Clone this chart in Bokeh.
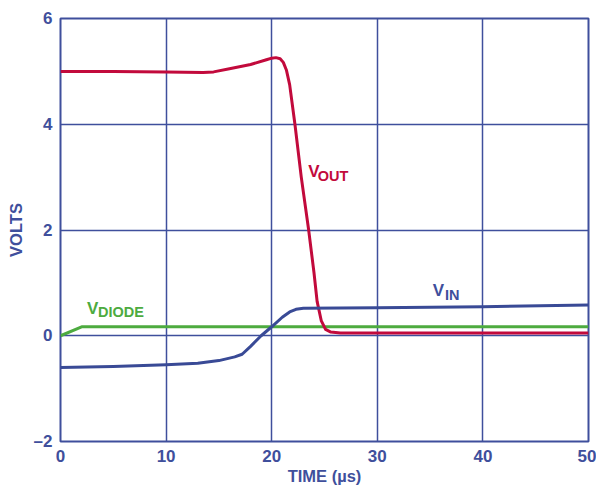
from bokeh.plotting import figure
from bokeh.models import Range1d, FixedTicker
from bokeh.core.properties import value
from bokeh.embed import file_html
from bokeh.resources import INLINE

# Data
t_out = [0, 5, 10, 13.5, 14.5, 16, 18, 19.5, 20.0, 20.4, 20.8, 21.1, 21.4, 21.7, 22.2, 22.8, 23.5, 24.0, 24.3, 24.7, 25.1, 25.6, 26.5, 30, 40, 50]
v_out = [5.00, 5.00, 4.99, 4.98, 4.99, 5.05, 5.13, 5.22, 5.25, 5.26, 5.24, 5.17, 5.02, 4.75, 4.0, 3.0, 2.0, 1.2, 0.65, 0.28, 0.12, 0.07, 0.05, 0.05, 0.05, 0.05]

t_in = [0, 5, 10, 13, 15, 16.5, 17.2, 18, 19, 20, 21, 21.7, 22.3, 23, 30, 40, 50]
v_in = [-0.60, -0.58, -0.55, -0.52, -0.47, -0.40, -0.35, -0.20, 0.0, 0.17, 0.35, 0.45, 0.50, 0.52, 0.53, 0.55, 0.58]

t_diode = [0, 2, 50]
v_diode = [0.0, 0.17, 0.17]

x_ticks = [0, 10, 20, 30, 40, 50]
y_ticks = [-2, 0, 2, 4, 6]
y_tick_labels = {-2: "\u20132", 0: "0", 2: "2", 4: "4", 6: "6"}

BLUE = "#3f4f9c"
RED = "#c20a3c"
GREEN = "#4dab3f"
LINEBLUE = "#394a96"
FONT = "Liberation Sans"

p = figure(width=596, height=487, output_backend="svg", toolbar_location=None,
           x_range=Range1d(0, 50), y_range=Range1d(-2, 6),
           min_border_left=60, min_border_right=8, min_border_top=18, min_border_bottom=45)

p.background_fill_color = "white"
p.border_fill_color = "white"
p.outline_line_color = BLUE
p.outline_line_width = 2
p.outline_line_alpha = 1

p.xaxis.ticker = FixedTicker(ticks=x_ticks)
p.yaxis.ticker = FixedTicker(ticks=y_ticks)
p.yaxis.major_label_overrides = y_tick_labels

for ax in (p.xaxis, p.yaxis):
    ax.axis_line_color = None
    ax.major_tick_line_color = None
    ax.minor_tick_line_color = None
    ax.major_tick_out = 0
    ax.major_tick_in = 0
    ax.major_label_text_font = FONT
    ax.major_label_text_font_style = "bold"
    ax.major_label_text_font_size = "17px"
    ax.major_label_text_color = BLUE
    ax.major_label_standoff = 8
    ax.axis_label_text_font = FONT
    ax.axis_label_text_font_style = "bold"
    ax.axis_label_text_font_size = "16.5px"
    ax.axis_label_text_color = BLUE

p.xaxis.axis_label = "TIME (\u00b5s)"
p.yaxis.axis_label = "VOLTS"
p.xaxis.axis_label_standoff = 2
p.yaxis.axis_label_standoff = 6

p.grid.grid_line_color = BLUE
p.grid.grid_line_width = 1.5
p.grid.grid_line_alpha = 1

p.line(t_diode, v_diode, line_color=GREEN, line_width=3)
p.line(t_out, v_out, line_color=RED, line_width=3, line_join="round")
p.line(t_in, v_in, line_color=LINEBLUE, line_width=3, line_join="round")

def sublabel(x, y, main, sub, color, xs, ys):
    p.text(x=[x], y=[y], text=[main], text_font=value(FONT), text_font_style="bold",
           text_font_size="17px", text_color=color, text_baseline="alphabetic", text_align="left")
    p.text(x=[xs], y=[ys], text=[sub], text_font=value(FONT), text_font_style="bold",
           text_font_size="14.5px", text_color=color, text_baseline="alphabetic", text_align="left")

sublabel(23.45, 3.11, "V", "OUT", RED, 24.35, 3.03)
sublabel(2.5, 0.515, "V", "DIODE", GREEN, 3.55, 0.44)
sublabel(35.25, 0.85, "V", "IN", BLUE, 36.4, 0.77)

open("out.html", "w").write(file_html(p, INLINE))
